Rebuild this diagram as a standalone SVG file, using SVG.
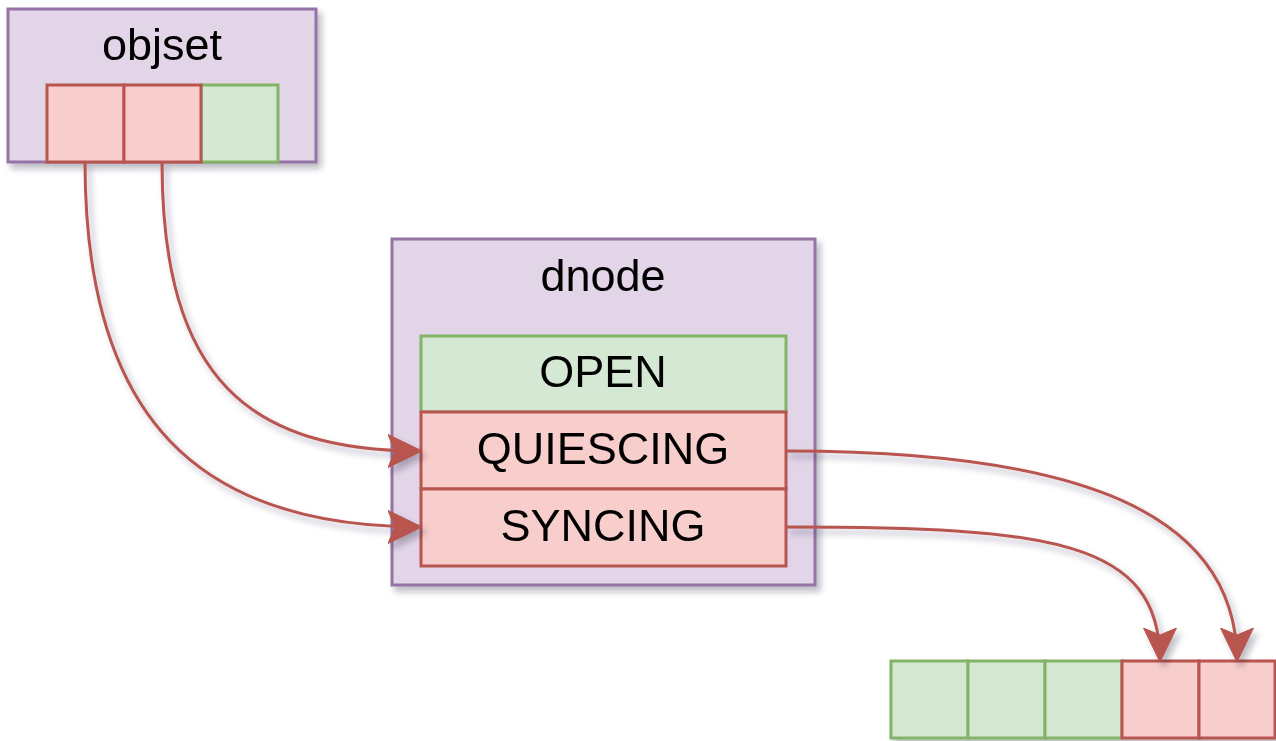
<svg xmlns="http://www.w3.org/2000/svg" width="1276" height="741" viewBox="0 0 1276 741">
<defs>
<filter id="sh" x="-10%" y="-10%" width="130%" height="130%">
<feDropShadow dx="4" dy="5" stdDeviation="3" flood-color="#1a1a3a" flood-opacity="0.3"/>
</filter>
<marker id="arr" markerUnits="userSpaceOnUse" viewBox="0 0 34 34" markerWidth="34" markerHeight="34" refX="33" refY="17" orient="auto">
<path d="M0,0.5 L34,17 L0,33.5 L7,17 Z" fill="#b85450" stroke="#b85450" stroke-width="1"/>
</marker>
</defs>
<style>
.pur{fill:#e1d5e7;stroke:#9673a6;stroke-width:3}
.red{fill:#f8cecc;stroke:#b85450;stroke-width:3}
.grn{fill:#d5e8d4;stroke:#82b366;stroke-width:3}
.t{font-family:"Liberation Sans",Arial,sans-serif;font-size:45px;fill:#000;text-anchor:middle}
.c{fill:none;stroke:#b85450;stroke-width:3;marker-end:url(#arr)}
</style>
<rect width="1276" height="741" fill="#fff"/>
<g id="objset" filter="url(#sh)">
<rect class="pur" x="8" y="9" width="308" height="153"/>
<text class="t" x="162" y="60">objset</text>
<rect class="grn" x="201" y="85" width="77" height="77"/>
<rect class="red" x="47" y="85" width="77" height="77"/>
<rect class="red" x="124" y="85" width="77" height="77"/>
</g>
<g id="dnode" filter="url(#sh)">
<rect class="pur" x="392" y="239" width="423" height="346"/>
<text class="t" x="603" y="291">dnode</text>
<rect class="grn" x="421" y="336" width="365" height="76"/>
<text class="t" x="603" y="387">OPEN</text>
<rect class="red" x="421" y="412" width="365" height="77"/>
<text class="t" x="603" y="464">QUIESCING</text>
<rect class="red" x="421" y="489" width="365" height="77"/>
<text class="t" x="603" y="541">SYNCING</text>
</g>
<g id="queue" filter="url(#sh)">
<rect class="grn" x="891" y="661" width="77" height="77"/>
<rect class="grn" x="968" y="661" width="77" height="77"/>
<rect class="grn" x="1045" y="661" width="77" height="77"/>
<rect class="red" x="1122" y="661" width="77" height="77"/>
<rect class="red" x="1199" y="661" width="76" height="77"/>
</g>
<g id="connectors" filter="url(#sh)">
<path class="c" d="M85,162 C85,420 200,527 421,527"/>
<path class="c" d="M162,162 C162,380 250,451 421,451"/>
<path class="c" d="M786,451 C1050,451 1237,500 1237,661"/>
<path class="c" d="M786,527 C1050,527 1160,540 1160,661"/>
</g>
</svg>
